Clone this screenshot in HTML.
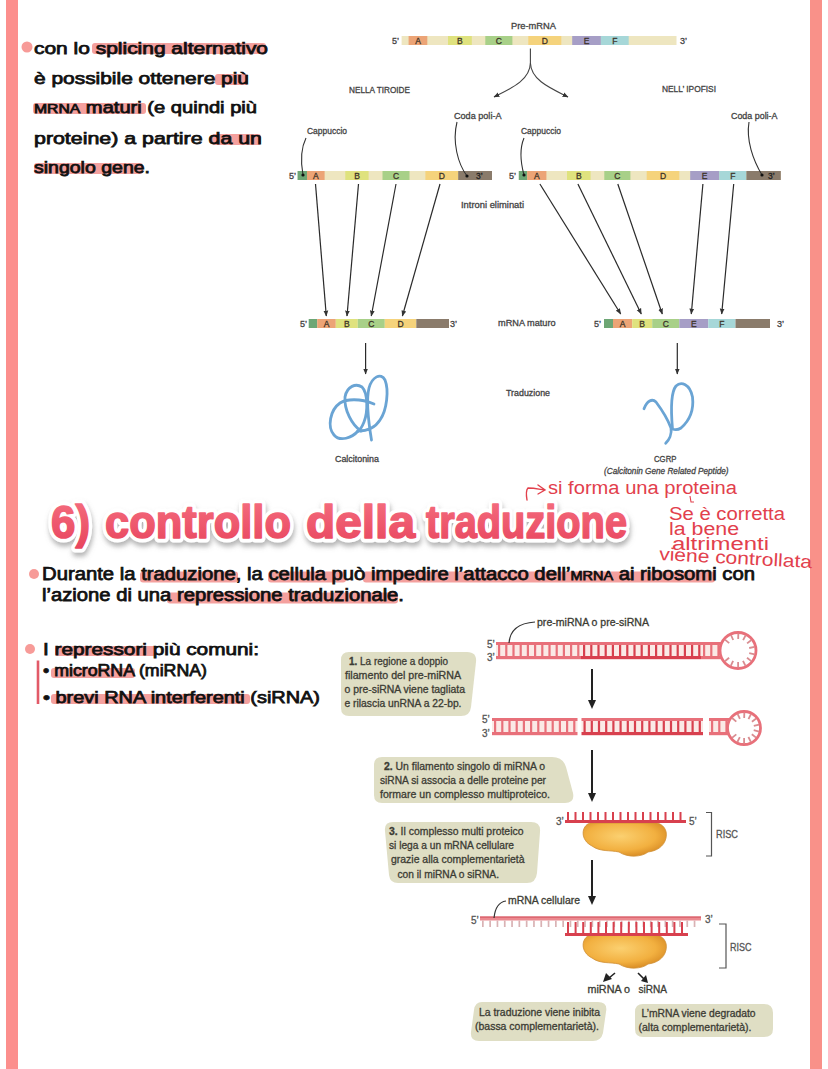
<!DOCTYPE html><html><head><meta charset="utf-8"><style>html,body{margin:0;padding:0;background:#fff;overflow:hidden}svg{display:block;font-family:"Liberation Sans",sans-serif}</style></head><body>
<svg width="828" height="1069" viewBox="0 0 828 1069">
<defs>
<linearGradient id="tg" x1="0" y1="0" x2="0" y2="1"><stop offset="0" stop-color="#f56f80"/><stop offset="1" stop-color="#e8455e"/></linearGradient>
<filter id="sh" x="-5%" y="-20%" width="110%" height="150%"><feDropShadow dx="1" dy="4" stdDeviation="2.5" flood-color="#777" flood-opacity="0.55"/></filter>
<marker id="ah" viewBox="0 0 10 10" refX="9" refY="5" markerWidth="6" markerHeight="6" orient="auto-start-reverse" markerUnits="userSpaceOnUse"><path d="M0,1 L10,5 L0,9 z" fill="#333"/></marker>
<radialGradient id="blob" cx="0.45" cy="0.4" r="0.6"><stop offset="0" stop-color="#fbd070"/><stop offset="0.7" stop-color="#f2b040"/><stop offset="1" stop-color="#dc9128"/></radialGradient>
</defs>
<rect x="0" y="0" width="828" height="1069" fill="#fff" />
<rect x="6" y="0" width="12" height="1069" fill="#fc8f8d" />
<rect x="810" y="0" width="12" height="1069" fill="#f99189" />
<rect x="92" y="43" width="174" height="11" fill="#f4a09e" rx="3"/>
<rect x="215" y="74" width="33" height="11" fill="#f4a09e" rx="3"/>
<rect x="33" y="103" width="113" height="11" fill="#f4a09e" rx="3"/>
<rect x="212" y="134" width="49" height="11" fill="#f4a09e" rx="3"/>
<rect x="34" y="163" width="109" height="11" fill="#f4a09e" rx="3"/>
<circle cx="27" cy="47" r="5.5" fill="#f79b98"/>
<text x="34" y="54" font-size="16" fill="#111" font-weight="normal" font-style="normal" text-anchor="start" textLength="234" lengthAdjust="spacingAndGlyphs"  stroke="#111" stroke-width="0.75">con lo splicing alternativo</text>
<text x="34" y="84" font-size="16" fill="#111" font-weight="normal" font-style="normal" text-anchor="start" textLength="215" lengthAdjust="spacingAndGlyphs"  stroke="#111" stroke-width="0.75">è possibile ottenere più</text>
<text x="34" y="113" font-size="16" fill="#111" font-weight="normal" font-style="normal" text-anchor="start" textLength="223" lengthAdjust="spacingAndGlyphs"  stroke="#111" stroke-width="0.75"><tspan font-size="12.5">MRNA</tspan> maturi (e quindi più</text>
<text x="34" y="144" font-size="16" fill="#111" font-weight="normal" font-style="normal" text-anchor="start" textLength="228" lengthAdjust="spacingAndGlyphs"  stroke="#111" stroke-width="0.75">proteine) a partire da un</text>
<text x="34" y="173" font-size="16" fill="#111" font-weight="normal" font-style="normal" text-anchor="start" textLength="116" lengthAdjust="spacingAndGlyphs"  stroke="#111" stroke-width="0.75">singolo gene.</text>
<rect x="401.6" y="36" width="274.9" height="9" fill="#eee6c0" />
<rect x="408.6" y="36" width="18.7" height="9" fill="#eca476" />
<text x="418.0" y="44" font-size="8.5" fill="#3d3428" font-weight="normal" font-style="normal" text-anchor="middle"  stroke="#3d3428" stroke-width="0.3">A</text>
<rect x="448" y="36" width="23.8" height="9" fill="#dfe27e" />
<text x="459.9" y="44" font-size="8.5" fill="#3d3428" font-weight="normal" font-style="normal" text-anchor="middle"  stroke="#3d3428" stroke-width="0.3">B</text>
<rect x="485.3" y="36" width="27.1" height="9" fill="#a8d088" />
<text x="498.9" y="44" font-size="8.5" fill="#3d3428" font-weight="normal" font-style="normal" text-anchor="middle"  stroke="#3d3428" stroke-width="0.3">C</text>
<rect x="528.3" y="36" width="33.0" height="9" fill="#f5d37c" />
<text x="544.8" y="44" font-size="8.5" fill="#3d3428" font-weight="normal" font-style="normal" text-anchor="middle"  stroke="#3d3428" stroke-width="0.3">D</text>
<rect x="572.2" y="36" width="28.7" height="9" fill="#a69ec6" />
<text x="586.5" y="44" font-size="8.5" fill="#3d3428" font-weight="normal" font-style="normal" text-anchor="middle"  stroke="#3d3428" stroke-width="0.3">E</text>
<rect x="600.9" y="36" width="27.8" height="9" fill="#a6d7d8" />
<text x="614.8" y="44" font-size="8.5" fill="#3d3428" font-weight="normal" font-style="normal" text-anchor="middle"  stroke="#3d3428" stroke-width="0.3">F</text>
<text x="392" y="44" font-size="9" fill="#444" font-weight="normal" font-style="normal" text-anchor="start"  stroke="#444" stroke-width="0.3">5’</text>
<text x="680" y="44" font-size="9" fill="#444" font-weight="normal" font-style="normal" text-anchor="start"  stroke="#444" stroke-width="0.3">3’</text>
<text x="511" y="29" font-size="9" fill="#444" font-weight="normal" font-style="normal" text-anchor="start" textLength="45" lengthAdjust="spacingAndGlyphs"  stroke="#444" stroke-width="0.3">Pre-mRNA</text>
<path d="M530.4,48.6 V63 C530,80 512,88 494,97" fill="none" stroke="#444" stroke-width="1.1" marker-end="url(#ah)"/>
<path d="M530.4,63 C531,80 550,88 568,97" fill="none" stroke="#444" stroke-width="1.1" marker-end="url(#ah)"/>
<text x="349" y="93" font-size="8.5" fill="#444" font-weight="normal" font-style="normal" text-anchor="start" textLength="61" lengthAdjust="spacingAndGlyphs"  stroke="#444" stroke-width="0.3">NELLA TIROIDE</text>
<text x="662" y="92" font-size="8.5" fill="#444" font-weight="normal" font-style="normal" text-anchor="start" textLength="54" lengthAdjust="spacingAndGlyphs"  stroke="#444" stroke-width="0.3">NELL’ IPOFISI</text>
<text x="454" y="119" font-size="9" fill="#444" font-weight="normal" font-style="normal" text-anchor="start" textLength="47.5" lengthAdjust="spacingAndGlyphs"  stroke="#444" stroke-width="0.3">Coda poli-A</text>
<text x="307" y="134" font-size="9" fill="#444" font-weight="normal" font-style="normal" text-anchor="start" textLength="40" lengthAdjust="spacingAndGlyphs"  stroke="#444" stroke-width="0.3">Cappuccio</text>
<text x="521" y="134" font-size="9" fill="#444" font-weight="normal" font-style="normal" text-anchor="start" textLength="40" lengthAdjust="spacingAndGlyphs"  stroke="#444" stroke-width="0.3">Cappuccio</text>
<text x="731" y="119" font-size="9" fill="#444" font-weight="normal" font-style="normal" text-anchor="start" textLength="46.5" lengthAdjust="spacingAndGlyphs"  stroke="#444" stroke-width="0.3">Coda poli-A</text>
<rect x="297.6" y="171" width="194.4" height="9" fill="#eee6c0" />
<rect x="297.6" y="171" width="9.4" height="9" fill="#6da675" />
<rect x="307" y="171" width="17.6" height="9" fill="#eca476" />
<text x="315.8" y="179" font-size="8.5" fill="#3d3428" font-weight="normal" font-style="normal" text-anchor="middle"  stroke="#3d3428" stroke-width="0.3">A</text>
<rect x="345.3" y="171" width="23.3" height="9" fill="#dfe27e" />
<text x="357.0" y="179" font-size="8.5" fill="#3d3428" font-weight="normal" font-style="normal" text-anchor="middle"  stroke="#3d3428" stroke-width="0.3">B</text>
<rect x="382.5" y="171" width="27.0" height="9" fill="#a8d088" />
<text x="396.0" y="179" font-size="8.5" fill="#3d3428" font-weight="normal" font-style="normal" text-anchor="middle"  stroke="#3d3428" stroke-width="0.3">C</text>
<rect x="425.4" y="171" width="32.8" height="9" fill="#f5d37c" />
<text x="441.8" y="179" font-size="8.5" fill="#3d3428" font-weight="normal" font-style="normal" text-anchor="middle"  stroke="#3d3428" stroke-width="0.3">D</text>
<rect x="458.2" y="171" width="33.8" height="9" fill="#8a7b6b" />
<text x="476" y="179" font-size="8.5" fill="#222" font-weight="normal" font-style="normal" text-anchor="start"  stroke="#222" stroke-width="0.3">3’</text>
<text x="289" y="179" font-size="9" fill="#444" font-weight="normal" font-style="normal" text-anchor="start"  stroke="#444" stroke-width="0.3">5’</text>
<rect x="518.8" y="171" width="262.0" height="9" fill="#eee6c0" />
<rect x="518.8" y="171" width="8.4" height="9" fill="#6da675" />
<rect x="527.2" y="171" width="19.2" height="9" fill="#eca476" />
<text x="536.8" y="179" font-size="8.5" fill="#3d3428" font-weight="normal" font-style="normal" text-anchor="middle"  stroke="#3d3428" stroke-width="0.3">A</text>
<rect x="567" y="171" width="23.6" height="9" fill="#dfe27e" />
<text x="578.8" y="179" font-size="8.5" fill="#3d3428" font-weight="normal" font-style="normal" text-anchor="middle"  stroke="#3d3428" stroke-width="0.3">B</text>
<rect x="604.3" y="171" width="26.1" height="9" fill="#a8d088" />
<text x="617.3" y="179" font-size="8.5" fill="#3d3428" font-weight="normal" font-style="normal" text-anchor="middle"  stroke="#3d3428" stroke-width="0.3">C</text>
<rect x="646.7" y="171" width="32.6" height="9" fill="#f5d37c" />
<text x="663.0" y="179" font-size="8.5" fill="#3d3428" font-weight="normal" font-style="normal" text-anchor="middle"  stroke="#3d3428" stroke-width="0.3">D</text>
<rect x="690.2" y="171" width="29.0" height="9" fill="#a69ec6" />
<text x="704.7" y="179" font-size="8.5" fill="#3d3428" font-weight="normal" font-style="normal" text-anchor="middle"  stroke="#3d3428" stroke-width="0.3">E</text>
<rect x="719.2" y="171" width="27.2" height="9" fill="#a6d7d8" />
<text x="732.8" y="179" font-size="8.5" fill="#3d3428" font-weight="normal" font-style="normal" text-anchor="middle"  stroke="#3d3428" stroke-width="0.3">F</text>
<rect x="746.4" y="171" width="34.4" height="9" fill="#8a7b6b" />
<text x="768" y="179" font-size="8.5" fill="#222" font-weight="normal" font-style="normal" text-anchor="start"  stroke="#222" stroke-width="0.3">3’</text>
<text x="509" y="179" font-size="9" fill="#444" font-weight="normal" font-style="normal" text-anchor="start"  stroke="#444" stroke-width="0.3">5’</text>
<text x="461" y="207.5" font-size="9" fill="#444" font-weight="normal" font-style="normal" text-anchor="start" textLength="63" lengthAdjust="spacingAndGlyphs"  stroke="#444" stroke-width="0.3">Introni eliminati</text>
<path d="M306,138 C300,150 301,164 303,175" fill="none" stroke="#333" stroke-width="1.1"/>
<circle cx="303" cy="175" r="1.6" fill="#111"/>
<path d="M457,122 C452,142 458,164 467,176" fill="none" stroke="#333" stroke-width="1.1"/>
<circle cx="467" cy="176" r="1.6" fill="#111"/>
<path d="M524,138 C519,150 521,164 524,175" fill="none" stroke="#333" stroke-width="1.1"/>
<circle cx="524" cy="175" r="1.6" fill="#111"/>
<path d="M749,122 C746,140 753,160 762,175" fill="none" stroke="#333" stroke-width="1.1"/>
<circle cx="762" cy="175" r="1.6" fill="#111"/>
<rect x="308.7" y="319" width="8.5" height="9" fill="#6da675" />
<rect x="317.2" y="319" width="18.6" height="9" fill="#eca476" />
<text x="326.5" y="327" font-size="8.5" fill="#3d3428" font-weight="normal" font-style="normal" text-anchor="middle"  stroke="#3d3428" stroke-width="0.3">A</text>
<rect x="335.8" y="319" width="22.0" height="9" fill="#dfe27e" />
<text x="346.8" y="327" font-size="8.5" fill="#3d3428" font-weight="normal" font-style="normal" text-anchor="middle"  stroke="#3d3428" stroke-width="0.3">B</text>
<rect x="357.8" y="319" width="27.0" height="9" fill="#a8d088" />
<text x="371.3" y="327" font-size="8.5" fill="#3d3428" font-weight="normal" font-style="normal" text-anchor="middle"  stroke="#3d3428" stroke-width="0.3">C</text>
<rect x="384.8" y="319" width="31.5" height="9" fill="#f5d37c" />
<text x="400.6" y="327" font-size="8.5" fill="#3d3428" font-weight="normal" font-style="normal" text-anchor="middle"  stroke="#3d3428" stroke-width="0.3">D</text>
<rect x="416.3" y="319" width="32.7" height="9" fill="#8a7b6b" />
<text x="300" y="327" font-size="9" fill="#444" font-weight="normal" font-style="normal" text-anchor="start"  stroke="#444" stroke-width="0.3">5’</text>
<text x="450" y="327" font-size="9" fill="#444" font-weight="normal" font-style="normal" text-anchor="start"  stroke="#444" stroke-width="0.3">3’</text>
<rect x="604" y="319" width="9" height="9" fill="#6da675" />
<rect x="613" y="319" width="19.2" height="9" fill="#eca476" />
<text x="622.6" y="327" font-size="8.5" fill="#3d3428" font-weight="normal" font-style="normal" text-anchor="middle"  stroke="#3d3428" stroke-width="0.3">A</text>
<rect x="632.2" y="319" width="20.0" height="9" fill="#dfe27e" />
<text x="642.2" y="327" font-size="8.5" fill="#3d3428" font-weight="normal" font-style="normal" text-anchor="middle"  stroke="#3d3428" stroke-width="0.3">B</text>
<rect x="652.2" y="319" width="27.1" height="9" fill="#a8d088" />
<text x="665.8" y="327" font-size="8.5" fill="#3d3428" font-weight="normal" font-style="normal" text-anchor="middle"  stroke="#3d3428" stroke-width="0.3">C</text>
<rect x="679.3" y="319" width="29.0" height="9" fill="#a69ec6" />
<text x="693.8" y="327" font-size="8.5" fill="#3d3428" font-weight="normal" font-style="normal" text-anchor="middle"  stroke="#3d3428" stroke-width="0.3">E</text>
<rect x="708.3" y="319" width="27.2" height="9" fill="#a6d7d8" />
<text x="721.9" y="327" font-size="8.5" fill="#3d3428" font-weight="normal" font-style="normal" text-anchor="middle"  stroke="#3d3428" stroke-width="0.3">F</text>
<rect x="735.5" y="319" width="34.5" height="9" fill="#8a7b6b" />
<text x="594" y="327" font-size="9" fill="#444" font-weight="normal" font-style="normal" text-anchor="start"  stroke="#444" stroke-width="0.3">5’</text>
<text x="777" y="327" font-size="9" fill="#444" font-weight="normal" font-style="normal" text-anchor="start"  stroke="#444" stroke-width="0.3">3’</text>
<text x="498" y="326" font-size="9" fill="#444" font-weight="normal" font-style="normal" text-anchor="start" textLength="57.6" lengthAdjust="spacingAndGlyphs"  stroke="#444" stroke-width="0.3">mRNA maturo</text>
<line x1="315.5" y1="184" x2="326.3" y2="316" stroke="#2a2a2a" stroke-width="1.2" marker-end="url(#ah)"/>
<line x1="358.5" y1="184" x2="347" y2="316" stroke="#2a2a2a" stroke-width="1.2" marker-end="url(#ah)"/>
<line x1="396" y1="184" x2="371.3" y2="316" stroke="#2a2a2a" stroke-width="1.2" marker-end="url(#ah)"/>
<line x1="440" y1="184" x2="402.4" y2="316" stroke="#2a2a2a" stroke-width="1.2" marker-end="url(#ah)"/>
<line x1="539.9" y1="184" x2="620.7" y2="314" stroke="#2a2a2a" stroke-width="1.2" marker-end="url(#ah)"/>
<line x1="577.9" y1="184" x2="641.3" y2="314" stroke="#2a2a2a" stroke-width="1.2" marker-end="url(#ah)"/>
<line x1="617.8" y1="184" x2="662.3" y2="314" stroke="#2a2a2a" stroke-width="1.2" marker-end="url(#ah)"/>
<line x1="702.9" y1="184" x2="691.3" y2="314" stroke="#2a2a2a" stroke-width="1.2" marker-end="url(#ah)"/>
<line x1="733.7" y1="184" x2="721.7" y2="314" stroke="#2a2a2a" stroke-width="1.2" marker-end="url(#ah)"/>
<line x1="365.6" y1="343" x2="365.6" y2="374" stroke="#2a2a2a" stroke-width="1.2" marker-end="url(#ah)"/>
<line x1="677.3" y1="343" x2="677.3" y2="374" stroke="#2a2a2a" stroke-width="1.2" marker-end="url(#ah)"/>
<text x="506" y="396" font-size="8.5" fill="#444" font-weight="normal" font-style="normal" text-anchor="start" textLength="44" lengthAdjust="spacingAndGlyphs"  stroke="#444" stroke-width="0.3">Traduzione</text>
<text x="335" y="462" font-size="8.5" fill="#444" font-weight="normal" font-style="normal" text-anchor="start" textLength="44" lengthAdjust="spacingAndGlyphs"  stroke="#444" stroke-width="0.3">Calcitonina</text>
<text x="654" y="462" font-size="8.5" fill="#444" font-weight="normal" font-style="normal" text-anchor="start" textLength="22.5" lengthAdjust="spacingAndGlyphs"  stroke="#444" stroke-width="0.3">CGRP</text>
<text x="604" y="473.5" font-size="8.5" fill="#444" font-weight="normal" font-style="italic" text-anchor="start" textLength="124.6" lengthAdjust="spacingAndGlyphs"  stroke="#444" stroke-width="0.3">(Calcitonin Gene Related Peptide)</text>
<g fill="none" stroke="#6aa4d4" stroke-width="2.8" stroke-linecap="round" stroke-linejoin="round">
<path d="M371.5,440 C369,425 366,400 369,388 C372,377 381,372 385,380 C389,390 387,410 380,420 C375,428 368,431 358,431"/>
<path d="M358,431 C352,438 340,442 334,435 C327,427 330,410 340,403 C346,399 360,398 374,404"/>
<path d="M361,431 C352,425 344,410 345,397 C347,386 356,383 362,387 C368,393 368,412 364,422 C362,427 360,430 358,431"/>
<path d="M644,408.7 C647,401 652,398 656,402 C662,410 668,420 671,428 C672,434 669,440 665.7,443.2"/>
<path d="M672.5,429 C671,412 671,392 676,386 C681,381 690,384 692.5,397 C694,410 689,421 681,428 C678,430 675,430 672.5,429"/>
</g>
<g filter="url(#sh)">
<text x="51" y="538" font-size="46" font-weight="bold" fill="#fff" stroke="#fff" stroke-width="9" stroke-linejoin="round" textLength="39" lengthAdjust="spacingAndGlyphs">6)</text>
<text x="105" y="538" font-size="46" font-weight="bold" fill="#fff" stroke="#fff" stroke-width="9" stroke-linejoin="round" textLength="186" lengthAdjust="spacingAndGlyphs">controllo</text>
<text x="306" y="538" font-size="46" font-weight="bold" fill="#fff" stroke="#fff" stroke-width="9" stroke-linejoin="round" textLength="109" lengthAdjust="spacingAndGlyphs">della</text>
<text x="426" y="538" font-size="46" font-weight="bold" fill="#fff" stroke="#fff" stroke-width="9" stroke-linejoin="round" textLength="201" lengthAdjust="spacingAndGlyphs">traduzione</text>
</g>
<text x="51" y="538" font-size="46" font-weight="bold" fill="url(#tg)" stroke="url(#tg)" stroke-width="1.6" stroke-linejoin="round" textLength="39" lengthAdjust="spacingAndGlyphs">6)</text>
<text x="105" y="538" font-size="46" font-weight="bold" fill="url(#tg)" stroke="url(#tg)" stroke-width="1.6" stroke-linejoin="round" textLength="186" lengthAdjust="spacingAndGlyphs">controllo</text>
<text x="306" y="538" font-size="46" font-weight="bold" fill="url(#tg)" stroke="url(#tg)" stroke-width="1.6" stroke-linejoin="round" textLength="109" lengthAdjust="spacingAndGlyphs">della</text>
<text x="426" y="538" font-size="46" font-weight="bold" fill="url(#tg)" stroke="url(#tg)" stroke-width="1.6" stroke-linejoin="round" textLength="201" lengthAdjust="spacingAndGlyphs">traduzione</text>
<rect x="140" y="571.5" width="98" height="11" fill="#f4a09e" rx="3"/>
<rect x="268" y="571.5" width="78" height="11" fill="#f4a09e" rx="3"/>
<rect x="363" y="571.5" width="352" height="11" fill="#f4a09e" rx="3"/>
<rect x="167" y="592.5" width="231" height="11" fill="#f4a09e" rx="3"/>
<circle cx="34" cy="574" r="5" fill="#f79b98"/>
<text x="42" y="579.5" font-size="17.5" fill="#111" font-weight="normal" font-style="normal" text-anchor="start" textLength="713" lengthAdjust="spacingAndGlyphs"  stroke="#111" stroke-width="0.75">Durante la traduzione, la cellula può impedire l’attacco dell’<tspan font-size="12.5">MRNA</tspan> ai ribosomi con</text>
<text x="42" y="600.5" font-size="17.5" fill="#111" font-weight="normal" font-style="normal" text-anchor="start" textLength="362" lengthAdjust="spacingAndGlyphs"  stroke="#111" stroke-width="0.75">l’azione di una repressione traduzionale.</text>
<rect x="55" y="646" width="101" height="10" fill="#f4a09e" rx="3"/>
<rect x="51" y="668" width="84" height="10" fill="#f4a09e" rx="3"/>
<rect x="51" y="694" width="199" height="10" fill="#f4a09e" rx="3"/>
<circle cx="30" cy="649" r="5" fill="#f79b98"/>
<text x="43" y="655" font-size="16" fill="#111" font-weight="normal" font-style="normal" text-anchor="start" textLength="216" lengthAdjust="spacingAndGlyphs"  stroke="#111" stroke-width="0.75">I repressori più comuni:</text>
<text x="43" y="675.5" font-size="16" fill="#111" font-weight="normal" font-style="normal" text-anchor="start" textLength="164" lengthAdjust="spacingAndGlyphs"  stroke="#111" stroke-width="0.75">• microRNA (miRNA)</text>
<text x="43" y="703" font-size="16" fill="#111" font-weight="normal" font-style="normal" text-anchor="start" textLength="277" lengthAdjust="spacingAndGlyphs"  stroke="#111" stroke-width="0.75">• brevi RNA interferenti (siRNA)</text>
<line x1="38" y1="660.5" x2="38" y2="704" stroke="#e25a68" stroke-width="2.6"/>
<path d="M349,652 H467 Q477,652 476,662 L471,707 Q470,716 461,716 H349 Q341,716 341,708 V660 Q341,652 349,652 z" fill="#dfdec4"/>
<path d="M382,757 H552 Q563,757 566,767 L573,793 Q575,803 565,803 H382 Q374,803 374,795 V765 Q374,757 382,757 z" fill="#dfdec4"/>
<path d="M393,822 H531 Q541,822 540,832 L537,873 Q536,883 527,883 H398 Q390,883 389,875 L385,831 Q384,822 393,822 z" fill="#dfdec4"/>
<path d="M482,1002 H598 Q608,1002 606,1012 L603,1033 Q601,1041 593,1041 H479 Q470,1041 471,1032 L474,1010 Q475,1002 482,1002 z" fill="#dfdec4"/>
<path d="M643,1004 H764 Q773,1004 773,1013 V1029 Q773,1037 764,1037 H643 Q635,1037 635,1029 V1012 Q635,1004 643,1004 z" fill="#dfdec4"/>
<text x="349" y="665.4" font-size="10.2" fill="#3c3c34" font-weight="normal" font-style="normal" text-anchor="start" textLength="99" lengthAdjust="spacingAndGlyphs"  stroke="#3c3c34" stroke-width="0.3"><tspan font-weight="bold">1.</tspan> La regione a doppio</text>
<text x="345" y="679.4" font-size="10.2" fill="#3c3c34" font-weight="normal" font-style="normal" text-anchor="start" textLength="116" lengthAdjust="spacingAndGlyphs"  stroke="#3c3c34" stroke-width="0.3">filamento del pre-miRNA</text>
<text x="344.5" y="693.4" font-size="10.2" fill="#3c3c34" font-weight="normal" font-style="normal" text-anchor="start" textLength="120.5" lengthAdjust="spacingAndGlyphs"  stroke="#3c3c34" stroke-width="0.3">o pre-siRNA viene tagliata</text>
<text x="344.5" y="707" font-size="10.2" fill="#3c3c34" font-weight="normal" font-style="normal" text-anchor="start" textLength="117" lengthAdjust="spacingAndGlyphs"  stroke="#3c3c34" stroke-width="0.3">e rilascia unRNA a 22-bp.</text>
<text x="384" y="769.8" font-size="10.2" fill="#3c3c34" font-weight="normal" font-style="normal" text-anchor="start" textLength="161" lengthAdjust="spacingAndGlyphs"  stroke="#3c3c34" stroke-width="0.3"><tspan font-weight="bold">2.</tspan> Un filamento singolo di miRNA o</text>
<text x="380" y="783.7" font-size="10.2" fill="#3c3c34" font-weight="normal" font-style="normal" text-anchor="start" textLength="166" lengthAdjust="spacingAndGlyphs"  stroke="#3c3c34" stroke-width="0.3">siRNA si associa a delle proteine per</text>
<text x="380" y="797.6" font-size="10.2" fill="#3c3c34" font-weight="normal" font-style="normal" text-anchor="start" textLength="170" lengthAdjust="spacingAndGlyphs"  stroke="#3c3c34" stroke-width="0.3">formare un complesso multiproteico.</text>
<text x="389" y="834.5" font-size="10.2" fill="#3c3c34" font-weight="normal" font-style="normal" text-anchor="start" textLength="134.5" lengthAdjust="spacingAndGlyphs"  stroke="#3c3c34" stroke-width="0.3"><tspan font-weight="bold">3.</tspan> Il complesso multi proteico</text>
<text x="389" y="848.8" font-size="10.2" fill="#3c3c34" font-weight="normal" font-style="normal" text-anchor="start" textLength="125" lengthAdjust="spacingAndGlyphs"  stroke="#3c3c34" stroke-width="0.3">si lega a un mRNA cellulare</text>
<text x="391" y="863.2" font-size="10.2" fill="#3c3c34" font-weight="normal" font-style="normal" text-anchor="start" textLength="133.5" lengthAdjust="spacingAndGlyphs"  stroke="#3c3c34" stroke-width="0.3">grazie alla complementarietà</text>
<text x="397.5" y="877.6" font-size="10.2" fill="#3c3c34" font-weight="normal" font-style="normal" text-anchor="start" textLength="101.5" lengthAdjust="spacingAndGlyphs"  stroke="#3c3c34" stroke-width="0.3">con il miRNA o siRNA.</text>
<text x="479" y="1016" font-size="10.2" fill="#3c3c34" font-weight="normal" font-style="normal" text-anchor="start" textLength="121" lengthAdjust="spacingAndGlyphs"  stroke="#3c3c34" stroke-width="0.3">La traduzione viene inibita</text>
<text x="475" y="1029.5" font-size="10.2" fill="#3c3c34" font-weight="normal" font-style="normal" text-anchor="start" textLength="124" lengthAdjust="spacingAndGlyphs"  stroke="#3c3c34" stroke-width="0.3">(bassa complementarietà).</text>
<text x="641.5" y="1017" font-size="10.2" fill="#3c3c34" font-weight="normal" font-style="normal" text-anchor="start" textLength="114" lengthAdjust="spacingAndGlyphs"  stroke="#3c3c34" stroke-width="0.3">L’mRNA viene degradato</text>
<text x="638.5" y="1030.5" font-size="10.2" fill="#3c3c34" font-weight="normal" font-style="normal" text-anchor="start" textLength="113" lengthAdjust="spacingAndGlyphs"  stroke="#3c3c34" stroke-width="0.3">(alta complementarietà).</text>
<rect x="496" y="645" width="85" height="11" fill="#fbe9e6" />
<rect x="496" y="642" width="85" height="3" fill="#e8707a" />
<rect x="496" y="656" width="85" height="3.2" fill="#e8707a" />
<rect x="498" y="645" width="2.2" height="11" fill="#e8707a" />
<rect x="505.2" y="645" width="2.2" height="11" fill="#e8707a" />
<rect x="512.4" y="645" width="2.2" height="11" fill="#e8707a" />
<rect x="519.6" y="645" width="2.2" height="11" fill="#e8707a" />
<rect x="526.8" y="645" width="2.2" height="11" fill="#e8707a" />
<rect x="534.0" y="645" width="2.2" height="11" fill="#e8707a" />
<rect x="541.2" y="645" width="2.2" height="11" fill="#e8707a" />
<rect x="548.4" y="645" width="2.2" height="11" fill="#e8707a" />
<rect x="555.6" y="645" width="2.2" height="11" fill="#e8707a" />
<rect x="562.8" y="645" width="2.2" height="11" fill="#e8707a" />
<rect x="570.0" y="645" width="2.2" height="11" fill="#e8707a" />
<rect x="577.2" y="645" width="2.2" height="11" fill="#e8707a" />
<rect x="581" y="645" width="120" height="11" fill="#fbe9e6" />
<rect x="581" y="642" width="120" height="3" fill="#e8707a" />
<rect x="581" y="656" width="120" height="3.2" fill="#d8404e" />
<rect x="583" y="645" width="2.2" height="11" fill="#d8404e" />
<rect x="590.2" y="645" width="2.2" height="11" fill="#d8404e" />
<rect x="597.4" y="645" width="2.2" height="11" fill="#d8404e" />
<rect x="604.6" y="645" width="2.2" height="11" fill="#d8404e" />
<rect x="611.8" y="645" width="2.2" height="11" fill="#d8404e" />
<rect x="619.0" y="645" width="2.2" height="11" fill="#d8404e" />
<rect x="626.2" y="645" width="2.2" height="11" fill="#d8404e" />
<rect x="633.4" y="645" width="2.2" height="11" fill="#d8404e" />
<rect x="640.6" y="645" width="2.2" height="11" fill="#d8404e" />
<rect x="647.8" y="645" width="2.2" height="11" fill="#d8404e" />
<rect x="655.0" y="645" width="2.2" height="11" fill="#d8404e" />
<rect x="662.2" y="645" width="2.2" height="11" fill="#d8404e" />
<rect x="669.4" y="645" width="2.2" height="11" fill="#d8404e" />
<rect x="676.6" y="645" width="2.2" height="11" fill="#d8404e" />
<rect x="683.8" y="645" width="2.2" height="11" fill="#d8404e" />
<rect x="691.0" y="645" width="2.2" height="11" fill="#d8404e" />
<rect x="698.2" y="645" width="2.2" height="11" fill="#d8404e" />
<rect x="701" y="645" width="21" height="11" fill="#fbe9e6" />
<rect x="701" y="642" width="21" height="3" fill="#e8707a" />
<rect x="701" y="656" width="21" height="3.2" fill="#e8707a" />
<rect x="703" y="645" width="2.2" height="11" fill="#e8707a" />
<rect x="710.2" y="645" width="2.2" height="11" fill="#e8707a" />
<rect x="717.4" y="645" width="2.2" height="11" fill="#e8707a" />
<circle cx="738" cy="650.5" r="18" fill="#fff" stroke="#e8707a" stroke-width="2.8"/>
<line x1="725.0" y1="639.6" x2="729.2" y2="643.1" stroke="#d98c90" stroke-width="1.8"/>
<line x1="731.0" y1="635.0" x2="733.2" y2="640.0" stroke="#d98c90" stroke-width="1.8"/>
<line x1="738.3" y1="633.5" x2="738.2" y2="639.0" stroke="#d98c90" stroke-width="1.8"/>
<line x1="745.6" y1="635.3" x2="743.1" y2="640.2" stroke="#d98c90" stroke-width="1.8"/>
<line x1="751.4" y1="640.0" x2="747.1" y2="643.4" stroke="#d98c90" stroke-width="1.8"/>
<line x1="754.6" y1="646.8" x2="749.2" y2="648.0" stroke="#d98c90" stroke-width="1.8"/>
<line x1="754.6" y1="654.3" x2="749.2" y2="653.1" stroke="#d98c90" stroke-width="1.8"/>
<line x1="751.3" y1="661.1" x2="747.0" y2="657.7" stroke="#d98c90" stroke-width="1.8"/>
<line x1="745.5" y1="665.8" x2="743.0" y2="660.8" stroke="#d98c90" stroke-width="1.8"/>
<line x1="738.1" y1="667.5" x2="738.1" y2="662.0" stroke="#d98c90" stroke-width="1.8"/>
<line x1="730.8" y1="665.9" x2="733.1" y2="660.9" stroke="#d98c90" stroke-width="1.8"/>
<line x1="724.9" y1="661.3" x2="729.1" y2="657.8" stroke="#d98c90" stroke-width="1.8"/>
<text x="487" y="647.5" font-size="10" fill="#555" font-weight="normal" font-style="normal" text-anchor="start"  stroke="#555" stroke-width="0.3">5’</text>
<text x="487" y="661" font-size="10" fill="#555" font-weight="normal" font-style="normal" text-anchor="start"  stroke="#555" stroke-width="0.3">3’</text>
<text x="537" y="626" font-size="10.2" fill="#3c3c34" font-weight="normal" font-style="normal" text-anchor="start" textLength="112" lengthAdjust="spacingAndGlyphs"  stroke="#3c3c34" stroke-width="0.3">pre-miRNA o pre-siRNA</text>
<path d="M509,643 C510,630 518,623 535,622" fill="none" stroke="#333" stroke-width="1.2"/>
<rect x="492" y="721" width="85.5" height="11" fill="#fbe9e6" />
<rect x="492" y="718" width="85.5" height="3" fill="#e8707a" />
<rect x="492" y="732" width="85.5" height="3.2" fill="#e8707a" />
<rect x="494" y="721" width="2.2" height="11" fill="#e8707a" />
<rect x="501.2" y="721" width="2.2" height="11" fill="#e8707a" />
<rect x="508.4" y="721" width="2.2" height="11" fill="#e8707a" />
<rect x="515.6" y="721" width="2.2" height="11" fill="#e8707a" />
<rect x="522.8" y="721" width="2.2" height="11" fill="#e8707a" />
<rect x="530.0" y="721" width="2.2" height="11" fill="#e8707a" />
<rect x="537.2" y="721" width="2.2" height="11" fill="#e8707a" />
<rect x="544.4" y="721" width="2.2" height="11" fill="#e8707a" />
<rect x="551.6" y="721" width="2.2" height="11" fill="#e8707a" />
<rect x="558.8" y="721" width="2.2" height="11" fill="#e8707a" />
<rect x="566.0" y="721" width="2.2" height="11" fill="#e8707a" />
<rect x="573.2" y="721" width="2.2" height="11" fill="#e8707a" />
<rect x="581.5" y="721" width="121.5" height="11" fill="#fbe9e6" />
<rect x="581.5" y="718" width="121.5" height="3" fill="#e8707a" />
<rect x="581.5" y="732" width="121.5" height="3.2" fill="#d8404e" />
<rect x="583.5" y="721" width="2.2" height="11" fill="#d8404e" />
<rect x="590.7" y="721" width="2.2" height="11" fill="#d8404e" />
<rect x="597.9" y="721" width="2.2" height="11" fill="#d8404e" />
<rect x="605.1" y="721" width="2.2" height="11" fill="#d8404e" />
<rect x="612.3" y="721" width="2.2" height="11" fill="#d8404e" />
<rect x="619.5" y="721" width="2.2" height="11" fill="#d8404e" />
<rect x="626.7" y="721" width="2.2" height="11" fill="#d8404e" />
<rect x="633.9" y="721" width="2.2" height="11" fill="#d8404e" />
<rect x="641.1" y="721" width="2.2" height="11" fill="#d8404e" />
<rect x="648.3" y="721" width="2.2" height="11" fill="#d8404e" />
<rect x="655.5" y="721" width="2.2" height="11" fill="#d8404e" />
<rect x="662.7" y="721" width="2.2" height="11" fill="#d8404e" />
<rect x="669.9" y="721" width="2.2" height="11" fill="#d8404e" />
<rect x="677.1" y="721" width="2.2" height="11" fill="#d8404e" />
<rect x="684.3" y="721" width="2.2" height="11" fill="#d8404e" />
<rect x="691.5" y="721" width="2.2" height="11" fill="#d8404e" />
<rect x="698.7" y="721" width="2.2" height="11" fill="#d8404e" />
<rect x="709" y="721" width="21" height="11" fill="#fbe9e6" />
<rect x="709" y="718" width="21" height="3" fill="#e8707a" />
<rect x="709" y="732" width="21" height="3.2" fill="#e8707a" />
<rect x="711" y="721" width="2.2" height="11" fill="#e8707a" />
<rect x="718.2" y="721" width="2.2" height="11" fill="#e8707a" />
<rect x="725.4" y="721" width="2.2" height="11" fill="#e8707a" />
<circle cx="744" cy="728" r="16.5" fill="#fff" stroke="#e8707a" stroke-width="2.8"/>
<line x1="732.1" y1="718.0" x2="736.3" y2="721.6" stroke="#d98c90" stroke-width="1.8"/>
<line x1="737.6" y1="713.9" x2="739.9" y2="718.9" stroke="#d98c90" stroke-width="1.8"/>
<line x1="744.3" y1="712.5" x2="744.2" y2="718.0" stroke="#d98c90" stroke-width="1.8"/>
<line x1="750.9" y1="714.1" x2="748.5" y2="719.1" stroke="#d98c90" stroke-width="1.8"/>
<line x1="756.2" y1="718.5" x2="751.9" y2="721.8" stroke="#d98c90" stroke-width="1.8"/>
<line x1="759.1" y1="724.6" x2="753.8" y2="725.8" stroke="#d98c90" stroke-width="1.8"/>
<line x1="759.1" y1="731.5" x2="753.7" y2="730.2" stroke="#d98c90" stroke-width="1.8"/>
<line x1="756.1" y1="737.6" x2="751.8" y2="734.2" stroke="#d98c90" stroke-width="1.8"/>
<line x1="750.8" y1="741.9" x2="748.4" y2="737.0" stroke="#d98c90" stroke-width="1.8"/>
<line x1="744.1" y1="743.5" x2="744.1" y2="738.0" stroke="#d98c90" stroke-width="1.8"/>
<line x1="737.4" y1="742.0" x2="739.8" y2="737.1" stroke="#d98c90" stroke-width="1.8"/>
<line x1="732.0" y1="737.9" x2="736.3" y2="734.4" stroke="#d98c90" stroke-width="1.8"/>
<text x="482" y="723" font-size="10" fill="#555" font-weight="normal" font-style="normal" text-anchor="start"  stroke="#555" stroke-width="0.3">5’</text>
<text x="482" y="737" font-size="10" fill="#555" font-weight="normal" font-style="normal" text-anchor="start"  stroke="#555" stroke-width="0.3">3’</text>
<line x1="592" y1="669" x2="592" y2="703" stroke="#222" stroke-width="2"/>
<path d="M588,700 L596,700 L592,709 z" fill="#222"/>
<line x1="592" y1="750" x2="592" y2="796" stroke="#222" stroke-width="2"/>
<path d="M588,793 L596,793 L592,802 z" fill="#222"/>
<line x1="592" y1="860" x2="592" y2="899" stroke="#222" stroke-width="2"/>
<path d="M588,896 L596,896 L592,905 z" fill="#222"/>
<path transform="translate(0,0)" d="M590,823 C581,826 580,840 592,846 C600,852 610,850 619,852 C628,858 642,857 648,852 C656,851 664,847 666,838 C668,829 662,824 657,823 Z" fill="url(#blob)" stroke="#cf8f35" stroke-width="0.8"/>
<rect x="565" y="820" width="121" height="3" fill="#d8404e" />
<rect x="567" y="812" width="2" height="8" fill="#d8404e" />
<rect x="574.5" y="812" width="2" height="8" fill="#d8404e" />
<rect x="582.0" y="812" width="2" height="8" fill="#d8404e" />
<rect x="589.5" y="812" width="2" height="8" fill="#d8404e" />
<rect x="597.0" y="812" width="2" height="8" fill="#d8404e" />
<rect x="604.5" y="812" width="2" height="8" fill="#d8404e" />
<rect x="612.0" y="812" width="2" height="8" fill="#d8404e" />
<rect x="619.5" y="812" width="2" height="8" fill="#d8404e" />
<rect x="627.0" y="812" width="2" height="8" fill="#d8404e" />
<rect x="634.5" y="812" width="2" height="8" fill="#d8404e" />
<rect x="642.0" y="812" width="2" height="8" fill="#d8404e" />
<rect x="649.5" y="812" width="2" height="8" fill="#d8404e" />
<rect x="657.0" y="812" width="2" height="8" fill="#d8404e" />
<rect x="664.5" y="812" width="2" height="8" fill="#d8404e" />
<rect x="672.0" y="812" width="2" height="8" fill="#d8404e" />
<rect x="679.5" y="812" width="2" height="8" fill="#d8404e" />
<text x="556" y="825" font-size="10" fill="#555" font-weight="normal" font-style="normal" text-anchor="start"  stroke="#555" stroke-width="0.3">3’</text>
<text x="689" y="825" font-size="10" fill="#555" font-weight="normal" font-style="normal" text-anchor="start"  stroke="#555" stroke-width="0.3">5’</text>
<path d="M706,812.5 H711.5 V856 H706" fill="none" stroke="#555" stroke-width="1.2"/>
<text x="716" y="838" font-size="10" fill="#555" font-weight="normal" font-style="normal" text-anchor="start" textLength="22" lengthAdjust="spacingAndGlyphs"  stroke="#555" stroke-width="0.3">RISC</text>
<path transform="translate(0,112)" d="M590,823 C581,826 580,840 592,846 C600,852 610,850 619,852 C628,858 642,857 648,852 C656,851 664,847 666,838 C668,829 662,824 657,823 Z" fill="url(#blob)" stroke="#cf8f35" stroke-width="0.8"/>
<rect x="480" y="916.5" width="221" height="4" fill="#ec8a90" />
<rect x="480" y="916.5" width="221" height="1.2" fill="#d85a66" />
<rect x="482" y="920.5" width="1.7" height="6.5" fill="#d9b2b4" />
<rect x="489.3" y="920.5" width="1.7" height="6.5" fill="#d9b2b4" />
<rect x="496.6" y="920.5" width="1.7" height="6.5" fill="#d9b2b4" />
<rect x="503.9" y="920.5" width="1.7" height="6.5" fill="#d9b2b4" />
<rect x="511.2" y="920.5" width="1.7" height="6.5" fill="#d9b2b4" />
<rect x="518.5" y="920.5" width="1.7" height="6.5" fill="#d9b2b4" />
<rect x="525.8" y="920.5" width="1.7" height="6.5" fill="#d9b2b4" />
<rect x="533.1" y="920.5" width="1.7" height="6.5" fill="#d9b2b4" />
<rect x="540.4" y="920.5" width="1.7" height="6.5" fill="#d9b2b4" />
<rect x="547.7" y="920.5" width="1.7" height="6.5" fill="#d9b2b4" />
<rect x="555.0" y="920.5" width="1.7" height="6.5" fill="#d9b2b4" />
<rect x="562.3" y="920.5" width="1.7" height="6.5" fill="#d9b2b4" />
<rect x="569.6" y="920.5" width="1.7" height="6.5" fill="#d9b2b4" />
<rect x="576.9" y="920.5" width="1.7" height="6.5" fill="#d9b2b4" />
<rect x="584.2" y="920.5" width="1.7" height="6.5" fill="#d9b2b4" />
<rect x="591.5" y="920.5" width="1.7" height="6.5" fill="#d9b2b4" />
<rect x="598.8" y="920.5" width="1.7" height="6.5" fill="#d9b2b4" />
<rect x="606.1" y="920.5" width="1.7" height="6.5" fill="#d9b2b4" />
<rect x="613.4" y="920.5" width="1.7" height="6.5" fill="#d9b2b4" />
<rect x="620.7" y="920.5" width="1.7" height="6.5" fill="#d9b2b4" />
<rect x="628.0" y="920.5" width="1.7" height="6.5" fill="#d9b2b4" />
<rect x="635.3" y="920.5" width="1.7" height="6.5" fill="#d9b2b4" />
<rect x="642.6" y="920.5" width="1.7" height="6.5" fill="#d9b2b4" />
<rect x="649.9" y="920.5" width="1.7" height="6.5" fill="#d9b2b4" />
<rect x="657.2" y="920.5" width="1.7" height="6.5" fill="#d9b2b4" />
<rect x="664.5" y="920.5" width="1.7" height="6.5" fill="#d9b2b4" />
<rect x="671.8" y="920.5" width="1.7" height="6.5" fill="#d9b2b4" />
<rect x="679.1" y="920.5" width="1.7" height="6.5" fill="#d9b2b4" />
<rect x="686.4" y="920.5" width="1.7" height="6.5" fill="#d9b2b4" />
<rect x="693.7" y="920.5" width="1.7" height="6.5" fill="#d9b2b4" />
<rect x="565" y="933" width="123" height="3" fill="#d8404e" />
<rect x="567" y="922" width="2" height="11" fill="#d8404e" />
<rect x="574.6" y="922" width="2" height="11" fill="#d8404e" />
<rect x="582.2" y="922" width="2" height="11" fill="#d8404e" />
<rect x="589.8" y="922" width="2" height="11" fill="#d8404e" />
<rect x="597.4" y="922" width="2" height="11" fill="#d8404e" />
<rect x="605.0" y="922" width="2" height="11" fill="#d8404e" />
<rect x="612.6" y="922" width="2" height="11" fill="#d8404e" />
<rect x="620.2" y="922" width="2" height="11" fill="#d8404e" />
<rect x="627.8" y="922" width="2" height="11" fill="#d8404e" />
<rect x="635.4" y="922" width="2" height="11" fill="#d8404e" />
<rect x="643.0" y="922" width="2" height="11" fill="#d8404e" />
<rect x="650.6" y="922" width="2" height="11" fill="#d8404e" />
<rect x="658.2" y="922" width="2" height="11" fill="#d8404e" />
<rect x="665.8" y="922" width="2" height="11" fill="#d8404e" />
<rect x="673.4" y="922" width="2" height="11" fill="#d8404e" />
<rect x="681.0" y="922" width="2" height="11" fill="#d8404e" />
<text x="471" y="924" font-size="10" fill="#555" font-weight="normal" font-style="normal" text-anchor="start"  stroke="#555" stroke-width="0.3">5’</text>
<text x="705" y="923" font-size="10" fill="#555" font-weight="normal" font-style="normal" text-anchor="start"  stroke="#555" stroke-width="0.3">3’</text>
<text x="508" y="904" font-size="10.2" fill="#3c3c34" font-weight="normal" font-style="normal" text-anchor="start" textLength="72" lengthAdjust="spacingAndGlyphs"  stroke="#3c3c34" stroke-width="0.3">mRNA cellulare</text>
<path d="M494,918 C495,908 499,902 506,901" fill="none" stroke="#333" stroke-width="1.2"/>
<path d="M719,924 H726 V968 H719" fill="none" stroke="#555" stroke-width="1.2"/>
<text x="730" y="951" font-size="10" fill="#555" font-weight="normal" font-style="normal" text-anchor="start" textLength="21.5" lengthAdjust="spacingAndGlyphs"  stroke="#555" stroke-width="0.3">RISC</text>
<path d="M615,973 L609,978" stroke="#222" stroke-width="1.6"/><path d="M603,982 L606,973 L612,979 z" fill="#222"/>
<path d="M638,973 L644,979" stroke="#222" stroke-width="1.6"/><path d="M648,983 L641,981 L646,975 z" fill="#222"/>
<text x="587.5" y="993" font-size="10.2" fill="#3c3c34" font-weight="normal" font-style="normal" text-anchor="start" textLength="42.5" lengthAdjust="spacingAndGlyphs"  stroke="#3c3c34" stroke-width="0.3">miRNA o</text>
<text x="638.5" y="993" font-size="10.2" fill="#3c3c34" font-weight="normal" font-style="normal" text-anchor="start" textLength="28.5" lengthAdjust="spacingAndGlyphs"  stroke="#3c3c34" stroke-width="0.3">siRNA</text>
<path d="M527,500 C526,494 526,490 528,488 C534,488 538,489 544,490 M538,485 L545,490 L538,494" stroke="#e2404c" stroke-width="1.4" fill="none" stroke-linecap="round"/>
<text x="548" y="494" font-size="18" fill="#e2404c" font-weight="normal" font-style="normal" text-anchor="start" textLength="189" lengthAdjust="spacingAndGlyphs" >si forma una proteina</text>
<path d="M690,496 L691,502 L694,502" stroke="#e2404c" stroke-width="1.1" fill="none"/>
<text x="669" y="520" font-size="18" fill="#e2404c" font-weight="normal" font-style="normal" text-anchor="start" textLength="116" lengthAdjust="spacingAndGlyphs" >Se è corretta</text>
<text x="669" y="535" font-size="18" fill="#e2404c" font-weight="normal" font-style="normal" text-anchor="start" textLength="70" lengthAdjust="spacingAndGlyphs" >la bene</text>
<text x="672" y="550" font-size="18" fill="#e2404c" font-weight="normal" font-style="normal" text-anchor="start" textLength="97" lengthAdjust="spacingAndGlyphs" >altrimenti</text>
<text x="659" y="564" font-size="18" fill="#e2404c" font-weight="normal" font-style="normal" text-anchor="start" textLength="153" lengthAdjust="spacingAndGlyphs"  transform="rotate(3 735 560)">viene controllata</text>
</svg></body></html>
